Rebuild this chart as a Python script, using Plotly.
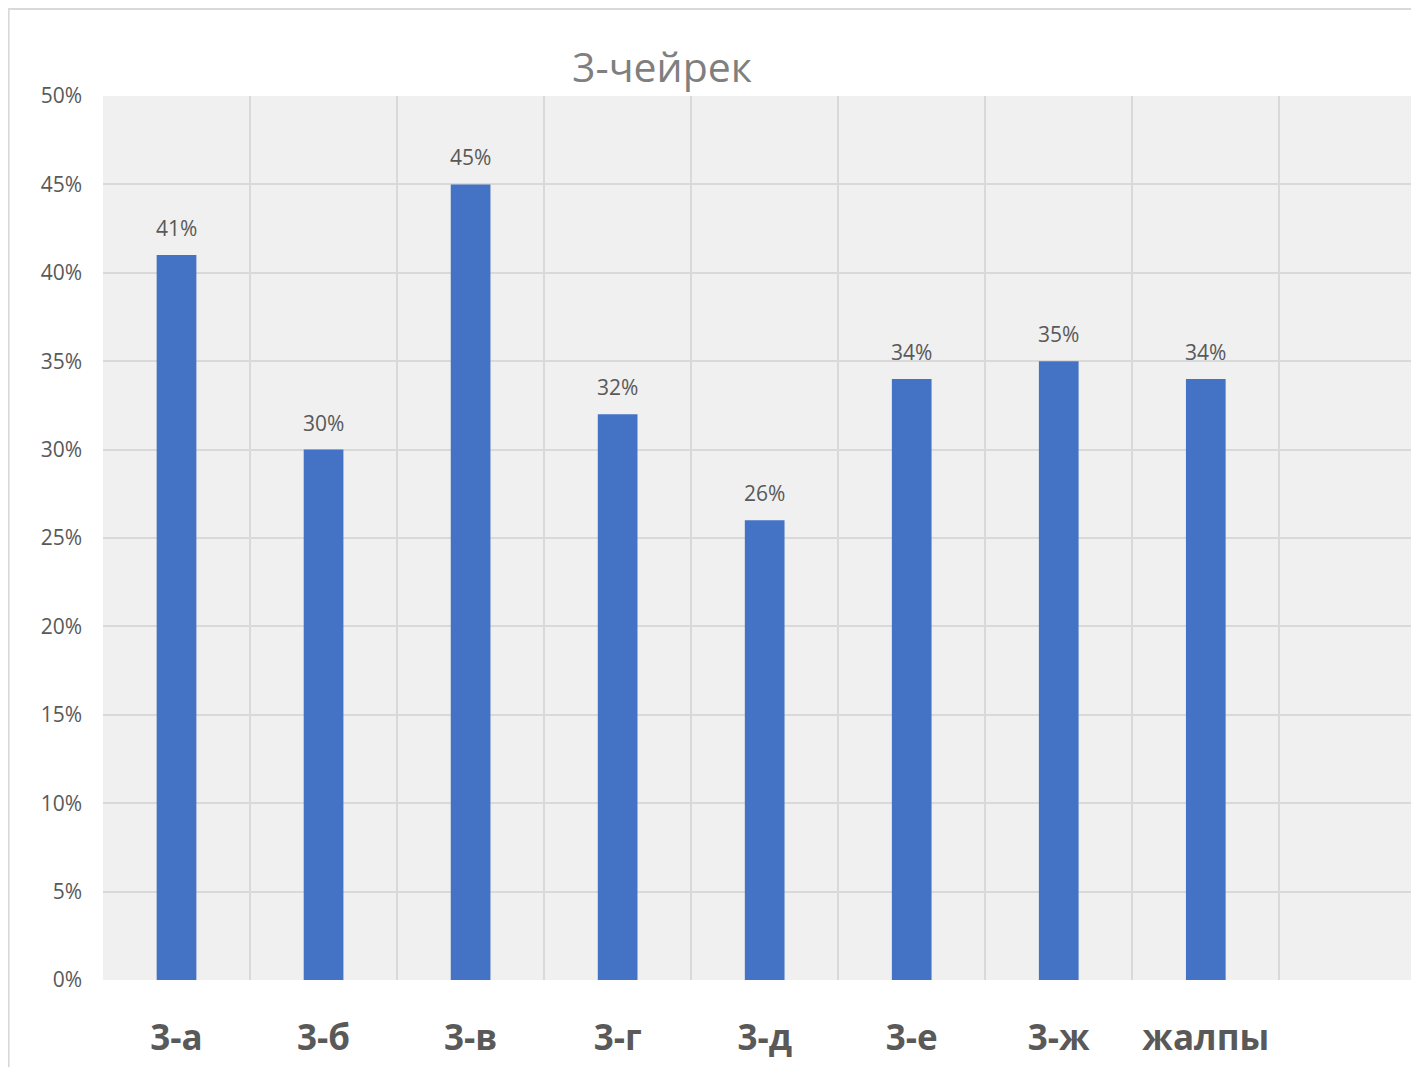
import plotly.graph_objects as go

categories = ["3-а", "3-б", "3-в", "3-г", "3-д", "3-е", "3-ж", "жалпы"]
values = [0.41, 0.30, 0.45, 0.32, 0.26, 0.34, 0.35, 0.34]
title_text = "3-чейрек"

# the page puts the figure 8px from the top-left corner of the window
OFF = 8
W, H = 1419 - OFF, 1075 - 2 * OFF
L, R, T = 103 - OFF, 0, 96 - OFF
B = H - T - (980 - 96)
positions = list(range(len(categories)))

grid = "#d9d9d9"
txt = "#595959"
font_family = "Open Sans, Noto Sans, sans-serif"

fig = go.Figure()
fig.add_trace(go.Bar(
    x=positions,
    y=values,
    width=0.27,
    marker=dict(color="#4472C4", line=dict(width=0)),
    hoverinfo="skip",
))

annotations = [
    dict(x=xp, y=v, xref="x", yref="y", text=f"{round(v * 100)}%",
         showarrow=False, yanchor="middle", yshift=27,
         font=dict(size=21, color=txt, family=font_family))
    for xp, v in zip(positions, values)
]

pw = W - L - R
ph = H - T - B
bx = (0 - L) / pw + 0.0005
by = 1 + T / ph - 0.001

fig.update_layout(
    width=W, height=H,
    margin=dict(l=L, r=R, t=T, b=B, pad=0),
    paper_bgcolor="white",
    plot_bgcolor="#f0f0f0",
    showlegend=False,
    font=dict(family=font_family, color=txt),
    title=dict(
        text=title_text,
        x=(662 - OFF) / W, xref="container", xanchor="center",
        y=1 - (68 - OFF) / H, yref="container", yanchor="middle",
        font=dict(size=41, color="#7f7f7f", family=font_family),
    ),
    xaxis=dict(
        range=[-0.5, len(categories) + 0.45],
        tickmode="array",
        tickvals=positions,
        ticktext=categories,
        showgrid=False,
        zeroline=False,
        showline=False,
        ticks="",
        tickfont=dict(size=35, color=txt, family="Open Sans, sans-serif", weight="bold"),
        ticklabelstandoff=34,
        minor=dict(tick0=0.5, dtick=1, showgrid=True, gridcolor=grid, gridwidth=2, ticks=""),
    ),
    yaxis=dict(
        range=[0, 0.5],
        dtick=0.05,
        tickformat=".0%",
        showgrid=True,
        gridcolor=grid,
        gridwidth=2,
        zeroline=False,
        showline=False,
        ticks="",
        tickfont=dict(size=21, color=txt, family=font_family),
        ticklabelstandoff=20,
    ),
    annotations=annotations,
    shapes=[dict(
        type="rect", xref="paper", yref="paper",
        x0=bx, x1=1.2, y0=-0.3, y1=by,
        line=dict(color=grid, width=2), fillcolor="rgba(0,0,0,0)", layer="below",
    )],
)

fig.write_html("out.html")
